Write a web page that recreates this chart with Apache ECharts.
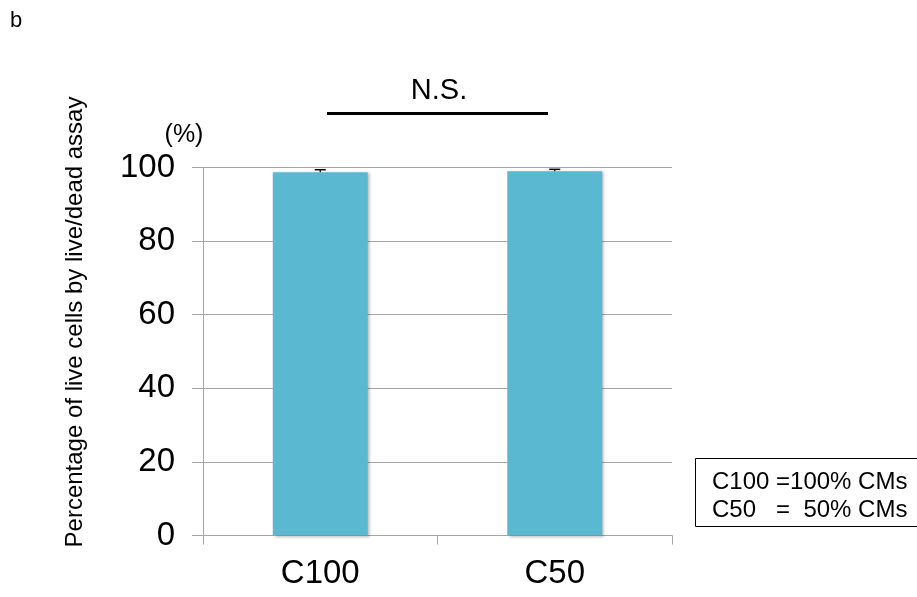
<!DOCTYPE html>
<html>
<head>
<meta charset="utf-8">
<script src="https://cdn.jsdelivr.net/npm/echarts@6/dist/echarts.min.js"></script>
<style>
  html, body { margin: 0; padding: 0; background: #fff; }
  #chart { width: 917px; height: 597px; }
</style>
</head>
<body>
<div id="chart"></div>
<script>
// Live/dead assay: share of live cells per culture condition
const categories = ['C100', 'C50'];
const liveCells = [98.7, 99.0];
const liveCellsErr = [0.7, 0.5];
const yTicks = [0, 20, 40, 60, 80, 100];

const FONT = '"Liberation Sans", Arial, Helvetica, sans-serif';
const chart = echarts.init(document.getElementById('chart'), null, { renderer: 'canvas' });

const option = {
  backgroundColor: '#ffffff',
  animation: false,
  grid: { left: 203, right: 245, top: 167.5, bottom: 61.5, containLabel: false },
  xAxis: {
    type: 'category',
    data: categories,
    boundaryGap: true,
    axisLine: { show: true, lineStyle: { color: '#a6a6a6', width: 1 } },
    axisTick: { show: true, length: 9, alignWithLabel: false, lineStyle: { color: '#a6a6a6' } },
    axisLabel: { fontFamily: FONT, fontSize: 33, color: '#000', margin: 22 },
    splitLine: { show: false }
  },
  yAxis: {
    type: 'value',
    min: yTicks[0],
    max: yTicks[yTicks.length - 1],
    interval: yTicks[1] - yTicks[0],
    axisLine: { show: true, lineStyle: { color: '#a6a6a6', width: 1 } },
    axisTick: { show: true, inside: false, length: 11, lineStyle: { color: '#a6a6a6' } },
    axisLabel: { fontFamily: FONT, fontSize: 33, color: '#000', margin: 28 },
    splitLine: { show: true, lineStyle: { color: '#a6a6a6', width: 1 } }
  },
  series: [
    {
      type: 'bar',
      data: liveCells,
      barWidth: '40.5%',
      itemStyle: {
        color: '#5bb8d1',
        shadowColor: 'rgba(0,0,0,0.28)',
        shadowBlur: 3,
        shadowOffsetX: 2,
        shadowOffsetY: 1
      },
      z: 2
    },
    {
      // upper error bars with caps
      type: 'custom',
      data: liveCells.map((v, i) => [i, v, v + liveCellsErr[i]]),
      renderItem: function (params, api) {
        const base = api.coord([api.value(0), api.value(1)]);
        const top = api.coord([api.value(0), api.value(2)]);
        const half = 5.5;
        return {
          type: 'group',
          children: [
            { type: 'line', shape: { x1: base[0], y1: base[1], x2: top[0], y2: top[1] },
              style: { stroke: '#000', lineWidth: 1.2 } },
            { type: 'line', shape: { x1: top[0] - half, y1: top[1], x2: top[0] + half, y2: top[1] },
              style: { stroke: '#000', lineWidth: 1.5 } }
          ]
        };
      },
      z: 3
    }
  ],
  graphic: [
    { type: 'text', left: 10, top: 10,
      style: { text: 'b', font: '22px ' + FONT, fill: '#000' } },
    { type: 'text', x: 75, y: 322, rotation: Math.PI / 2,
      style: { text: 'Percentage of live cells by live/dead assay', font: '24px ' + FONT,
               fill: '#000', align: 'center', verticalAlign: 'middle' } },
    { type: 'text', x: 184, y: 135,
      style: { text: '(%)', font: '25px ' + FONT, fill: '#000', align: 'center', verticalAlign: 'middle' } },
    { type: 'text', x: 439, y: 91,
      style: { text: 'N.S.', font: '29px ' + FONT, fill: '#000', align: 'center', verticalAlign: 'middle' } },
    { type: 'line', shape: { x1: 327, y1: 113.5, x2: 548, y2: 113.5 },
      style: { stroke: '#000', lineWidth: 3 } },
    { type: 'rect', shape: { x: 695.5, y: 458.5, width: 240, height: 68 },
      style: { fill: '#fff', stroke: '#000', lineWidth: 1 } },
    { type: 'text', x: 712, y: 482,
      style: { text: 'C100 =100% CMs', font: '24px ' + FONT, fill: '#000', verticalAlign: 'middle' } },
    { type: 'text', x: 712, y: 510,
      style: { text: 'C50   =  50% CMs', font: '24px ' + FONT, fill: '#000', verticalAlign: 'middle' } }
  ]
};

chart.setOption(option);
</script>
</body>
</html>
